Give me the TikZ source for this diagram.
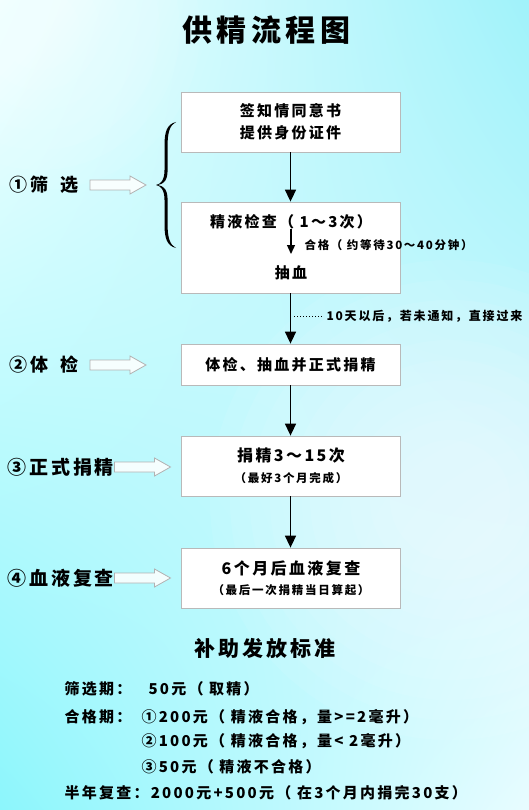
\documentclass[tikz,border=0pt]{standalone}
\usepackage{fontspec}
\newfontfamily\cjk{Noto Sans CJK SC}[LetterSpace=15]
\usepackage{tikz}
\usetikzlibrary{arrows.meta,shadings}
\definecolor{bgtl}{HTML}{F2FFFF}
\definecolor{bgtr}{HTML}{A0F2FA}
\definecolor{bgbl}{HTML}{8CF6FC}
\definecolor{bgbr}{HTML}{E8FCFF}
\newcommand\fs[1]{\fontsize{#1}{#1}\selectfont}
\tikzset{
	box/.style={draw=gray!55,fill=white,line width=.8pt,minimum width=219pt},
	flow/.style={-{Triangle[width=11pt,length=12pt]},line width=1.6pt},
	inflow/.style={-{Triangle[width=8pt,length=9pt]},line width=1.3pt},
	hollowarrow/.pic={\draw[gray!60,fill=white,fill opacity=.85,line width=.8pt]
		(-28,-5) -- (12,-5) -- (12,-9) -- (28,0) -- (12,9) -- (12,5) -- (-28,5) -- cycle;},
	lab/.style={anchor=west,font=\cjk\bfseries\fs{19}},
	txt/.style={font=\cjk\bfseries\fs{15}},
	small/.style={font=\cjk\bfseries\fs{11.5}},
	rule/.style={anchor=west,font=\cjk\bfseries\fs{15}}
}
\begin{document}
\begin{tikzpicture}[x=1pt,y=-1pt]
	\useasboundingbox (0,0) rectangle (529,810);
	\shade[upper left=bgtl,upper right=bgtr,lower left=bgbl,lower right=bgbr] (0,0) rectangle (529,810);
	\foreach \r in {60,80,...,240}
		\fill[white,opacity=.07] (450,500) circle (\r);
	\foreach \r in {40,60,...,160}
		\fill[white,opacity=.06] (40,30) circle (\r);
	\node[font=\cjk\bfseries\fs{30}] (title) at (266,30) {供精流程图};
	% flow boxes
	\node[box,minimum height=60pt,align=center,font=\cjk\bfseries\fontsize{15}{22}\selectfont] (box1) at (290.5,122) {签知情同意书\\提供身份证件};
	\node[box,minimum height=91pt] (box2) at (290.5,247.5) {};
	\node[txt] (check) at (291,222) {精液检查（ 1～3次）};
	\node[txt] (blood) at (291,273) {抽血};
	\node[small,anchor=west] (pass) at (301,245) {合格（ 约等待30～40分钟）};
	\node[box,minimum height=41pt,txt] (box3) at (290.5,364.5) {体检、抽血并正式捐精};
	\node[box,minimum height=60pt] (box4) at (290.5,466) {};
	\node[txt,font=\cjk\bfseries\fs{16}] (times) at (291,456) {捐精3～15次};
	\node[small] (best) at (291,478) {（最好3个月完成）};
	\node[box,minimum height=60pt] (box5) at (290.5,578) {};
	\node[txt,font=\cjk\bfseries\fs{16}] (recheck) at (291,568) {6个月后血液复查};
	\node[small] (count) at (291,590) {（最后一次捐精当日算起）};
	\draw[flow] (box1) -- (box2);
	\coordinate (in1) at (291,229);\coordinate (in2) at (291,254);
	\draw[inflow] (in1) -- (in2);
	\draw[flow] (box2) -- (box3);
	\coordinate (dot0) at (294,316);
	\node[small,anchor=west,font=\cjk\bfseries\fs{12}] (wait) at (323,316) {10天以后，若未通知，直接过来};
	\draw[dotted,line width=1pt] (dot0) -- (wait.west);
	\draw[flow] (box3) -- (box4);
	\draw[flow] (box4) -- (box5);
	% stages
	\node[lab,font=\cjk\bfseries\fs{18}] (st1) at (6,185) {①筛\hspace{12pt}选};
	\pic at (118,185) {hollowarrow};
	\fill (176,122) .. controls (167,124) and (164.5,132) .. (164.5,145) -- (164.5,170)
		.. controls (164.5,180) and (161,184) .. (156,185) .. controls (161,186) and (164.5,190) .. (164.5,200)
		-- (164.5,225) .. controls (164.5,238) and (167,246) .. (176,248)
		.. controls (170,245) and (167.6,238) .. (167.6,225) -- (167.6,200)
		.. controls (167.6,190) and (164,186) .. (158,185) .. controls (164,184) and (167.6,180) .. (167.6,170)
		-- (167.6,145) .. controls (167.6,132) and (170,125) .. (176,122) -- cycle;
	\node[lab,font=\cjk\bfseries\fs{18}] (st2) at (6,365) {②体\hspace{12pt}检};
	\pic at (118,365) {hollowarrow};
	\node[lab] (st3) at (4,467) {③正式捐精};
	\pic at (142.5,467) {hollowarrow};
	\node[lab] (st4) at (4,578) {④血液复查};
	\pic at (142.5,578) {hollowarrow};
	% subsidy
	\node[font=\cjk\bfseries\fs{21}] (sub) at (265,648) {补助发放标准};
	\node[rule] (r1) at (61,689) {筛选期：};
	\node[rule] (v1) at (145,689) {50元（ 取精）};
	\node[rule] (r2) at (61,717) {合格期：};
	\node[rule] (v2) at (138,717) {①200元（ 精液合格，量>=2毫升）};
	\node[rule] (v3) at (138,741) {②100元（ 精液合格，量< 2毫升）};
	\node[rule] (v4) at (138,767) {③50元（ 精液不合格）};
	\node[rule] (r5) at (61,793) {半年复查：2000元+500元（ 在3个月内捐完30支）};
\end{tikzpicture}
\end{document}
